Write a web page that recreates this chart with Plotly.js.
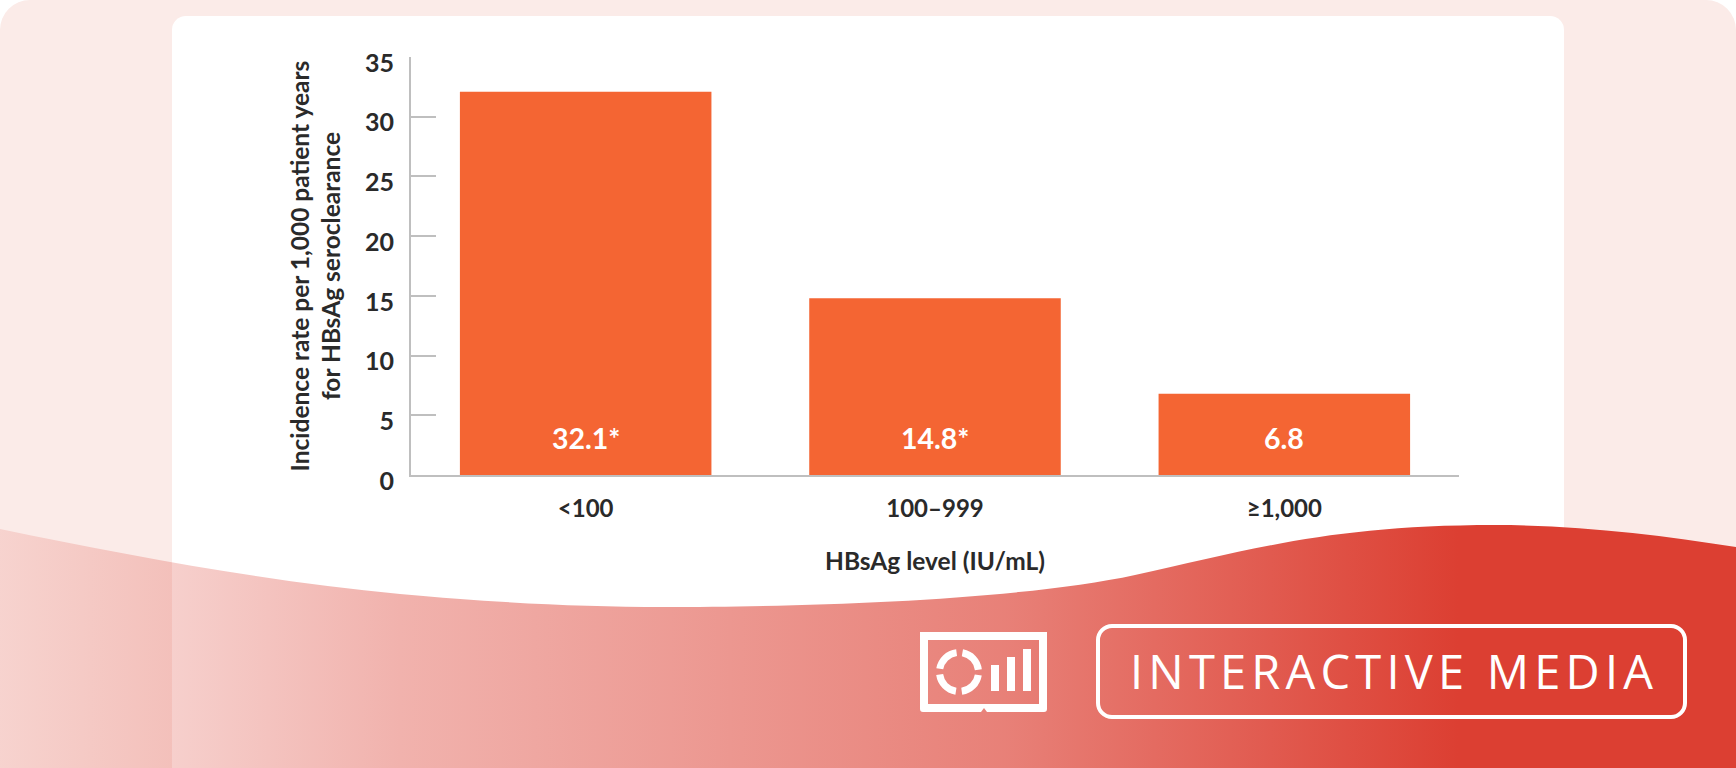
<!DOCTYPE html>
<html>
<head>
<meta charset="utf-8">
<script src="https://cdn.plot.ly/plotly-3.0.1.min.js"></script>
<style>
html,body{margin:0;padding:0;background:#fff;width:1736px;height:768px;overflow:hidden}
#bg,#chart,#fg{position:absolute;left:0;top:0;width:1736px;height:768px}
</style>
</head>
<body>
<svg id="bg" width="1736" height="768" viewBox="0 0 1736 768" xmlns="http://www.w3.org/2000/svg">
  <path d="M30 0H1706A30 30 0 0 1 1736 30V768H0V30A30 30 0 0 1 30 0Z" fill="#FBEBE8"/>
  <path d="M186 16H1550A14 14 0 0 1 1564 30V768H172V30A14 14 0 0 1 186 16Z" fill="#FFFFFF"/>
</svg>
<div id="chart"></div>
<svg id="fg" width="1736" height="768" viewBox="0 0 1736 768" xmlns="http://www.w3.org/2000/svg" style="pointer-events:none">
  <defs>
    <linearGradient id="wave" x1="0" y1="0" x2="1736" y2="0" gradientUnits="userSpaceOnUse">
      <stop offset="0" stop-color="#DC3F32" stop-opacity="0.14"/>
      <stop offset="0.1" stop-color="#DC3F32" stop-opacity="0.25"/>
      <stop offset="0.23" stop-color="#DC3F32" stop-opacity="0.40"/>
      <stop offset="0.58" stop-color="#DC3F32" stop-opacity="0.66"/>
      <stop offset="0.84" stop-color="#DC3F32" stop-opacity="1"/>
      <stop offset="1" stop-color="#DC3F32" stop-opacity="1"/>
    </linearGradient>
  </defs>
  <path d="M0 529C130 556 270 582 400 594C500 603 580 607 664 607C810 607 1020 600 1135 575C1250 550 1330 525 1495 525C1580 525 1660 535 1736 547V768H0Z" fill="url(#wave)"/>
  <path fill-rule="evenodd" fill="#fff" d="M920 632H1047V709Q1047 712 1044 712H987L984 708L981 712H923Q920 712 920 709ZM928 640V704H1039V640Z"/>
  <circle cx="959" cy="672" r="19.5" fill="none" stroke="#fff" stroke-width="7" stroke-dasharray="24.6 6" stroke-dashoffset="-3"/>
  <g fill="#fff">
    <rect x="991" y="665" width="8" height="26"/>
    <rect x="1007" y="657" width="8" height="34"/>
    <rect x="1023" y="649" width="8" height="42"/>
  </g>
  <rect x="1098" y="626" width="587" height="91" rx="14" fill="none" stroke="#fff" stroke-width="4"/>
  <text x="1130" y="689" textLength="523" lengthAdjust="spacing" fill="#fff" font-family="Open Sans" font-weight="400" font-size="47">INTERACTIVE MEDIA</text>
</svg>
<script>
const categories = ['<100', '100–999', '≥1,000'];
const values = [32.1, 14.8, 6.8];
const valueLabels = ['32.1*', '14.8*', '6.8'];
const yTicks = [0, 5, 10, 15, 20, 25, 30, 35];
const yTitle = 'Incidence rate per 1,000 patient years<br>for HBsAg seroclearance';
const xTitle = 'HBsAg level (IU/mL)';

const FONT = 'Lato, "Open Sans", sans-serif';
const INK = '#2A2A2A';
const AXIS = '#BFBFBF';

Plotly.newPlot('chart', [{
  type: 'bar',
  x: categories,
  y: values,
  width: 0.72,
  marker: {color: '#F46533', line: {width: 0}},
  hoverinfo: 'skip'
}], {
  width: 1736,
  height: 768,
  margin: {l: 411, r: 277, t: 57, b: 293, pad: 0},
  paper_bgcolor: 'rgba(0,0,0,0)',
  plot_bgcolor: 'rgba(0,0,0,0)',
  showlegend: false,
  font: {family: FONT, color: INK},
  xaxis: {
    type: 'category',
    categoryorder: 'array',
    categoryarray: categories,
    range: [-0.5, 2.5],
    fixedrange: true,
    showgrid: false,
    zeroline: false,
    showline: true,
    linecolor: AXIS,
    linewidth: 2,
    ticks: '',
    ticklen: 0,
    ticklabelstandoff: 11,
    tickfont: {family: FONT, size: 24, color: INK, weight: 700},
    title: {text: xTitle, standoff: 32, font: {family: FONT, size: 24.5, color: INK, weight: 700}}
  },
  yaxis: {
    range: [0, 35],
    tickmode: 'array',
    tickvals: yTicks,
    ticktext: yTicks.map(String),
    fixedrange: true,
    showgrid: false,
    zeroline: false,
    showline: true,
    linecolor: AXIS,
    linewidth: 2,
    ticks: 'inside',
    ticklen: 25,
    tickwidth: 2,
    tickcolor: AXIS,
    ticklabelstandoff: 10,
    ticklabelshift: 6,
    tickfont: {family: FONT, size: 25, color: INK, weight: 700},
    title: {text: yTitle, standoff: 17, font: {family: FONT, size: 24.5, color: INK, weight: 700}}
  },
  annotations: categories.map((c, i) => ({
    x: c, y: 0, xref: 'x', yref: 'y',
    yshift: 37, showarrow: false,
    xanchor: 'center', yanchor: 'middle',
    text: valueLabels[i],
    font: {family: FONT, size: 28.5, color: '#FFFFFF', weight: 700}
  }))
}, {displayModeBar: false, staticPlot: true});
</script>
</body>
</html>
